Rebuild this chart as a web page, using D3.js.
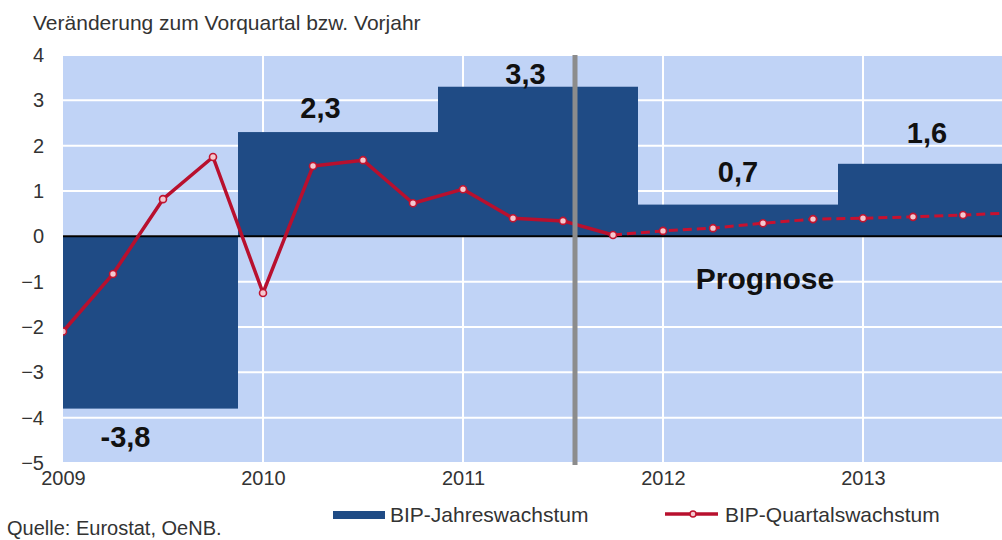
<!DOCTYPE html>
<html>
<head>
<meta charset="utf-8">
<script src="https://cdn.jsdelivr.net/npm/d3@7/dist/d3.min.js"></script>
<style>
  html, body { margin: 0; padding: 0; background: #fff; }
  svg { display: block; font-family: "Liberation Sans", Arial, sans-serif; }
</style>
</head>
<body>
<div id="chart"></div>
<script>
// Daten: BIP-Wachstum Österreich
const years = ['2009', '2010', '2011', '2012', '2013'];
const annualGrowth = [-3.8, 2.3, 3.3, 0.7, 1.6];
const annualLabels = ['-3,8', '2,3', '3,3', '0,7', '1,6'];
// Quartale 2009Q1 .. 2013Q4
const quarterlyGrowth = [-2.1, -0.83, 0.82, 1.75, -1.25, 1.55, 1.68, 0.73, 1.04, 0.40,
  0.34, 0.03, 0.12, 0.18, 0.29, 0.38, 0.40, 0.43, 0.47, 0.52];
const yTicks = [4, 3, 2, 1, 0, -1, -2, -3, -4, -5];

// Position der Wertelabels (Quartalsindex, Wert)
const labelPos = [[1.25, -4.65], [5.15, 2.6], [9.25, 3.35], [13.5, 1.2], [17.28, 2.06]];
const forecastStart = 10.24;   // graue Trennlinie
const dashFrom = 11;           // ab hier gestrichelt

const width = 1002;
const height = 540;
const plotLeft = 63;
const plotRight = 1002;
const plotTop = 55;
const plotBottom = 463;

const svg = d3.select('#chart')
  .append('svg')
  .attr('width', width)
  .attr('height', height)
  .attr('viewBox', `0 0 ${width} ${height}`);

const x = d3.scaleLinear().domain([0, 19]).range([plotLeft, plotLeft + 950]);
const y = d3.scaleLinear().domain([-5, 4]).range([plotBottom, plotTop]);

svg.append('defs').append('clipPath').attr('id', 'plotClip')
  .append('rect')
  .attr('x', plotLeft).attr('y', plotTop)
  .attr('width', plotRight - plotLeft).attr('height', plotBottom - plotTop);

// Titel
svg.append('text')
  .attr('x', 33).attr('y', 30)
  .attr('font-size', 21).attr('fill', '#333')
  .text('Veränderung zum Vorquartal bzw. Vorjahr');

// Hintergrund
svg.append('rect')
  .attr('x', plotLeft).attr('y', plotTop)
  .attr('width', plotRight - plotLeft).attr('height', plotBottom - plotTop)
  .attr('fill', '#c0d3f6');

const plot = svg.append('g').attr('clip-path', 'url(#plotClip)');

// Gitterlinien
plot.append('g').selectAll('line')
  .data(yTicks)
  .enter().append('line')
  .attr('x1', plotLeft).attr('x2', plotRight)
  .attr('y1', d => y(d)).attr('y2', d => y(d))
  .attr('stroke', '#fff').attr('stroke-width', 2);

plot.append('g').selectAll('line')
  .data(years.map((d, i) => i * 4).filter(d => d > 0))
  .enter().append('line')
  .attr('x1', d => x(d)).attr('x2', d => x(d))
  .attr('y1', plotTop).attr('y2', plotBottom)
  .attr('stroke', '#fff').attr('stroke-width', 2);

// Jahresbalken
plot.append('g').selectAll('rect')
  .data(annualGrowth)
  .enter().append('rect')
  .attr('x', (d, i) => x(i * 4 - 0.5))
  .attr('width', x(4) - x(0))
  .attr('y', d => y(Math.max(0, d)))
  .attr('height', d => Math.abs(y(d) - y(0)))
  .attr('fill', '#1f4b85');

// Nulllinie
plot.append('line')
  .attr('x1', plotLeft).attr('x2', plotRight)
  .attr('y1', y(0)).attr('y2', y(0))
  .attr('stroke', '#000').attr('stroke-width', 2);

// Prognose-Trennlinie
svg.append('line')
  .attr('x1', x(forecastStart)).attr('x2', x(forecastStart))
  .attr('y1', plotTop).attr('y2', plotBottom + 2)
  .attr('stroke', '#8c8c8c').attr('stroke-width', 5);

// Quartalslinie
const line = d3.line()
  .x(d => x(d[0]))
  .y(d => y(d[1]));
const pts = quarterlyGrowth.map((d, i) => [i, d]);

plot.append('path')
  .datum(pts.slice(0, dashFrom + 1))
  .attr('fill', 'none')
  .attr('stroke', '#b8102e')
  .attr('stroke-width', 3.5)
  .attr('stroke-linejoin', 'round')
  .attr('d', line);

plot.append('path')
  .datum(pts.slice(dashFrom))
  .attr('fill', 'none')
  .attr('stroke', '#c8112f')
  .attr('stroke-width', 3)
  .attr('stroke-dasharray', '9,5')
  .attr('d', line);

plot.append('g').selectAll('circle')
  .data(pts)
  .enter().append('circle')
  .attr('cx', d => x(d[0]))
  .attr('cy', d => y(d[1]))
  .attr('r', 3.5)
  .attr('fill', '#f4c8cf')
  .attr('stroke', '#c0142f')
  .attr('stroke-width', 1.6);

// Wertelabels
svg.append('g').selectAll('text')
  .data(annualLabels)
  .enter().append('text')
  .attr('x', (d, i) => x(labelPos[i][0]))
  .attr('y', (d, i) => y(labelPos[i][1]))
  .attr('text-anchor', 'middle')
  .attr('font-size', 29).attr('font-weight', 'bold')
  .attr('fill', '#111')
  .text(d => d);

svg.append('text')
  .attr('x', x(14.04)).attr('y', y(-1.16))
  .attr('text-anchor', 'middle')
  .attr('font-size', 30).attr('font-weight', 'bold')
  .attr('fill', '#111')
  .text('Prognose');

// Achsen
svg.append('g')
  .attr('transform', `translate(${plotLeft},0)`)
  .call(d3.axisLeft(y).tickValues(yTicks).tickSize(0).tickPadding(19).tickFormat(d3.format('d')))
  .call(g => g.select('.domain').remove())
  .call(g => g.selectAll('text')
    .attr('font-size', 20)
    .attr('font-family', '"Liberation Sans", Arial, sans-serif')
    .attr('fill', '#333'));

svg.append('g')
  .attr('transform', `translate(0,${plotBottom})`)
  .call(d3.axisBottom(x).tickValues(years.map((d, i) => i * 4)).tickSize(0).tickPadding(8)
    .tickFormat((d, i) => years[i]))
  .call(g => g.select('.domain').remove())
  .call(g => g.selectAll('text')
    .attr('font-size', 20)
    .attr('font-family', '"Liberation Sans", Arial, sans-serif')
    .attr('fill', '#333'));

// Legende
const legend = svg.append('g');
legend.append('rect')
  .attr('x', 333).attr('y', 511)
  .attr('width', 52).attr('height', 8)
  .attr('fill', '#1f4b85');
legend.append('text')
  .attr('x', 390).attr('y', 522)
  .attr('font-size', 21).attr('fill', '#333')
  .text('BIP-Jahreswachstum');

legend.append('line')
  .attr('x1', 665).attr('x2', 718)
  .attr('y1', 514).attr('y2', 514)
  .attr('stroke', '#b8102e').attr('stroke-width', 3.5);
legend.append('circle')
  .attr('cx', 693).attr('cy', 514).attr('r', 3)
  .attr('fill', '#f4c8cf').attr('stroke', '#c0142f').attr('stroke-width', 1.5);
legend.append('text')
  .attr('x', 725).attr('y', 522)
  .attr('font-size', 21).attr('fill', '#333')
  .text('BIP-Quartalswachstum');

// Quelle
svg.append('text')
  .attr('x', 7).attr('y', 535)
  .attr('font-size', 20).attr('fill', '#333')
  .text('Quelle: Eurostat, OeNB.');
</script>
</body>
</html>
